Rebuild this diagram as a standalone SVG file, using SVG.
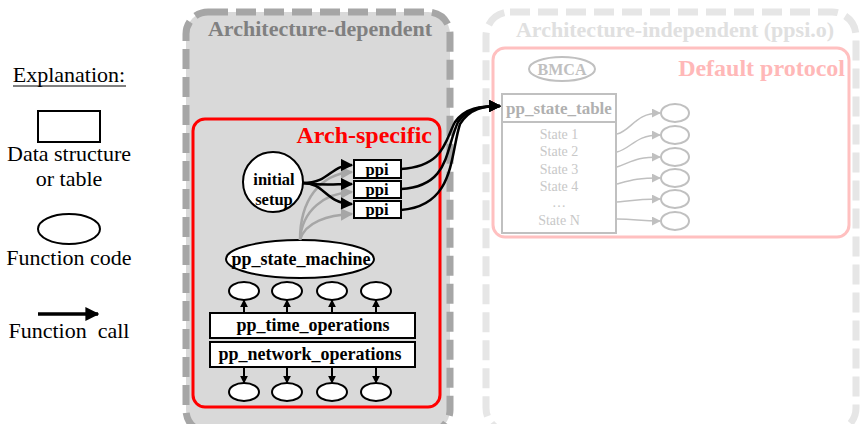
<svg xmlns="http://www.w3.org/2000/svg" width="860" height="424" viewBox="0 0 860 424" font-family="'Liberation Serif', 'Times New Roman', serif">
  <defs>
    <marker id="ah" viewBox="0 0 10 10" refX="9" refY="5" markerWidth="5" markerHeight="5" orient="auto" markerUnits="strokeWidth">
      <path d="M0,0 L10,5 L0,10 z" fill="#000"/>
    </marker>
    <marker id="ahs" viewBox="0 0 10 10" refX="9" refY="5" markerWidth="4" markerHeight="4" orient="auto" markerUnits="strokeWidth">
      <path d="M0,0 L10,5 L0,10 z" fill="#000"/>
    </marker>
    <marker id="ahg" viewBox="0 0 10 10" refX="9" refY="5" markerWidth="5" markerHeight="5" orient="auto" markerUnits="strokeWidth">
      <path d="M0,0 L10,5 L0,10 z" fill="#a6a6a6"/>
    </marker>
    <marker id="ahl" viewBox="0 0 10 10" refX="9" refY="5" markerWidth="6" markerHeight="6" orient="auto" markerUnits="strokeWidth">
      <path d="M0,0 L10,5 L0,10 z" fill="#c0c0c0"/>
    </marker>
  </defs>
  <style>
    text { font-family: "Liberation Serif", "Times New Roman", serif; }
    .b { font-weight: bold; }
    .leg { font-size: 22px; fill: #000; text-anchor: middle; }
    .box { fill: #fff; stroke: #000; stroke-width: 2; }
    .fn { fill: #fff; stroke: #000; stroke-width: 2; }
    .lbl { font-size: 16.5px; font-weight: bold; fill: #000; text-anchor: middle; }
    .op { font-size: 18px; font-weight: bold; fill: #000; text-anchor: middle; }
    .call { fill: none; stroke: #000; stroke-width: 2.5; marker-end: url(#ah); }
    .vcall { fill: none; stroke: #000; stroke-width: 2; marker-end: url(#ahs); }
    .gcall { fill: none; stroke: #a6a6a6; stroke-width: 2.5; marker-end: url(#ahg); }
    .lcall { fill: none; stroke: #c0c0c0; stroke-width: 1.5; marker-end: url(#ahl); }
    .lt { fill: none; stroke: #c0c0c0; stroke-width: 2; }
    .st { font-size: 14px; fill: #c8c8c8; text-anchor: middle; }
  </style>

  <rect width="860" height="424" fill="#fff"/>

  <!-- Legend -->
  <g id="legend">
    <text class="leg" x="69" y="82">Explanation:</text>
    <line x1="13" y1="86" x2="126" y2="86" stroke="#000" stroke-width="1"/>
    <rect x="38" y="111" width="62" height="31" fill="#fff" stroke="#000" stroke-width="2"/>
    <text class="leg" x="69" y="161">Data structure</text>
    <text class="leg" x="69" y="186">or table</text>
    <ellipse cx="69" cy="229" rx="31" ry="15" fill="#fff" stroke="#000" stroke-width="2"/>
    <text class="leg" x="69" y="265">Function code</text>
    <line x1="38" y1="314" x2="98" y2="314" stroke="#000" stroke-width="3.5" marker-end="url(#ahs)"/>
    <text class="leg" x="69" y="338" xml:space="preserve">Function  call</text>
  </g>

  <!-- Architecture-dependent container -->
  <g id="arch-dependent">
    <rect x="186" y="12" width="264" height="420" rx="22" fill="#d9d9d9" stroke="#a6a6a6" stroke-width="7" stroke-dasharray="20 8"/>
    <text class="b" x="320" y="36" font-size="22" fill="#808080" text-anchor="middle">Architecture-dependent</text>
  </g>

  <!-- Architecture-independent container -->
  <g id="arch-independent">
    <rect x="486" y="12" width="370" height="420" rx="24" fill="#fff" stroke="#e6e6e6" stroke-width="7" stroke-dasharray="20 8"/>
    <text class="b" x="675" y="37" font-size="22" fill="#e0e0e0" text-anchor="middle">Architecture-independent (ppsi.o)</text>
  </g>

  <!-- Arch-specific block -->
  <g id="arch-specific">
    <rect x="193" y="119" width="247" height="288" rx="12" fill="none" stroke="#ff0000" stroke-width="3"/>
    <text class="b" x="432" y="143" font-size="24" fill="#ff0000" text-anchor="end">Arch-specific</text>
  </g>

  <!-- Default protocol block -->
  <g id="default-protocol">
    <rect x="493" y="48" width="356" height="189" rx="12" fill="none" stroke="#ffc0c0" stroke-width="3"/>
    <text class="b" x="845" y="76" font-size="24" fill="#ffb8b8" text-anchor="end">Default protocol</text>
  </g>

  <g id="bmca">
    <ellipse cx="562" cy="69" rx="33" ry="12" fill="#fff" stroke="#c0c0c0" stroke-width="2"/>
    <text class="b" x="562" y="75" font-size="16" fill="#c0c0c0" text-anchor="middle">BMCA</text>
  </g>

  <g id="pp-state-table">
    <rect x="502" y="94" width="114" height="139" class="lt" fill="#fff"/>
    <line x1="502" y1="122" x2="616" y2="122" class="lt"/>
    <text class="b" x="559" y="114" font-size="17" fill="#b0b0b0" text-anchor="middle">pp_state_table</text>
    <text class="st" x="559" y="139">State 1</text>
    <text class="st" x="559" y="156">State 2</text>
    <text class="st" x="559" y="174">State 3</text>
    <text class="st" x="559" y="191">State 4</text>
    <text class="st" x="559" y="207">…</text>
    <text class="st" x="559" y="225">State N</text>
  </g>

  <g id="state-functions" fill="#fff" stroke="#c0c0c0" stroke-width="2">
    <ellipse cx="675" cy="113" rx="14" ry="9"/>
    <ellipse cx="675" cy="135" rx="14" ry="9"/>
    <ellipse cx="675" cy="157" rx="14" ry="9"/>
    <ellipse cx="675" cy="178" rx="14" ry="9"/>
    <ellipse cx="675" cy="199" rx="14" ry="9"/>
    <ellipse cx="675" cy="221" rx="14" ry="9"/>
  </g>

  <g id="initial-setup">
    <circle cx="273" cy="182" r="30" class="fn"/>
    <text class="lbl" x="274" y="185">initial</text>
    <text class="lbl" x="274" y="205">setup</text>
  </g>

  <g id="ppi-1">
    <rect x="354" y="160" width="47" height="18" class="box"/>
    <text class="lbl" x="377" y="175">ppi</text>
  </g>
  <g id="ppi-2">
    <rect x="354" y="181" width="47" height="17" class="box"/>
    <text class="lbl" x="377" y="195">ppi</text>
  </g>
  <g id="ppi-3">
    <rect x="354" y="201" width="47" height="17" class="box"/>
    <text class="lbl" x="377" y="215">ppi</text>
  </g>

  <g id="pp-state-machine">
    <ellipse cx="300" cy="259" rx="74" ry="19" class="fn"/>
    <text class="op" x="301" y="265">pp_state_machine</text>
  </g>

  <g id="time-functions">
    <ellipse cx="244" cy="291" rx="15" ry="9" class="fn"/>
    <ellipse cx="287" cy="291" rx="15" ry="9" class="fn"/>
    <ellipse cx="332" cy="291" rx="15" ry="9" class="fn"/>
    <ellipse cx="376" cy="291" rx="15" ry="9" class="fn"/>
  </g>

  <g id="pp-time-operations">
    <rect x="210" y="313" width="205" height="25" class="box"/>
    <text class="op" x="313" y="331">pp_time_operations</text>
  </g>

  <g id="pp-network-operations">
    <rect x="210" y="342" width="205" height="25" class="box"/>
    <text class="op" x="310" y="360">pp_network_operations</text>
  </g>

  <g id="network-functions">
    <ellipse cx="244" cy="392" rx="15" ry="9" class="fn"/>
    <ellipse cx="287" cy="392" rx="15" ry="9" class="fn"/>
    <ellipse cx="332" cy="392" rx="15" ry="9" class="fn"/>
    <ellipse cx="376" cy="392" rx="15" ry="9" class="fn"/>
  </g>

  <!-- Connectors -->
  <g id="connectors">
    <!-- state machine to ppi -->
    <path class="gcall" d="M300,240 C300,200 320,174 352,172"/>
    <path class="gcall" d="M300,240 C302,210 325,193 352,192"/>
    <path class="gcall" d="M300,240 C305,222 328,215 352,214"/>
    <!-- initial setup to ppi -->
    <path class="call" d="M303,183 C330,183 330,165 352,165"/>
    <path class="call" d="M303,183 C325,186 335,184 352,184"/>
    <path class="call" d="M303,183 C325,183 325,203 352,204"/>
    <!-- ppi to pp_state_table -->
    <path class="call" d="M401,169 C445,166 445,140 455,122 C465,108 480,106 500,106"/>
    <path class="call" d="M401,189 C450,186 445,150 458,122 C468,108 482,106 500,106"/>
    <path class="call" d="M401,210 C455,206 450,155 460,124 C470,108 484,106 500,106"/>
    <!-- time ops to functions -->
    <path class="vcall" d="M244,313 V300"/>
    <path class="vcall" d="M287,313 V300"/>
    <path class="vcall" d="M332,313 V300"/>
    <path class="vcall" d="M376,313 V300"/>
    <!-- network ops to functions -->
    <path class="vcall" d="M244,367 V383"/>
    <path class="vcall" d="M287,367 V383"/>
    <path class="vcall" d="M332,367 V383"/>
    <path class="vcall" d="M376,367 V383"/>
    <!-- state table to state functions -->
    <path class="lcall" d="M617,134 C632,130 635,113 660,113"/>
    <path class="lcall" d="M617,152 C632,148 635,135 660,135"/>
    <path class="lcall" d="M617,167 C632,162 635,157 660,157"/>
    <path class="lcall" d="M617,184 C632,180 638,178 660,178"/>
    <path class="lcall" d="M617,202 C635,200 640,199 660,199"/>
    <path class="lcall" d="M617,219 C635,219 640,221 660,221"/>
  </g>
</svg>
